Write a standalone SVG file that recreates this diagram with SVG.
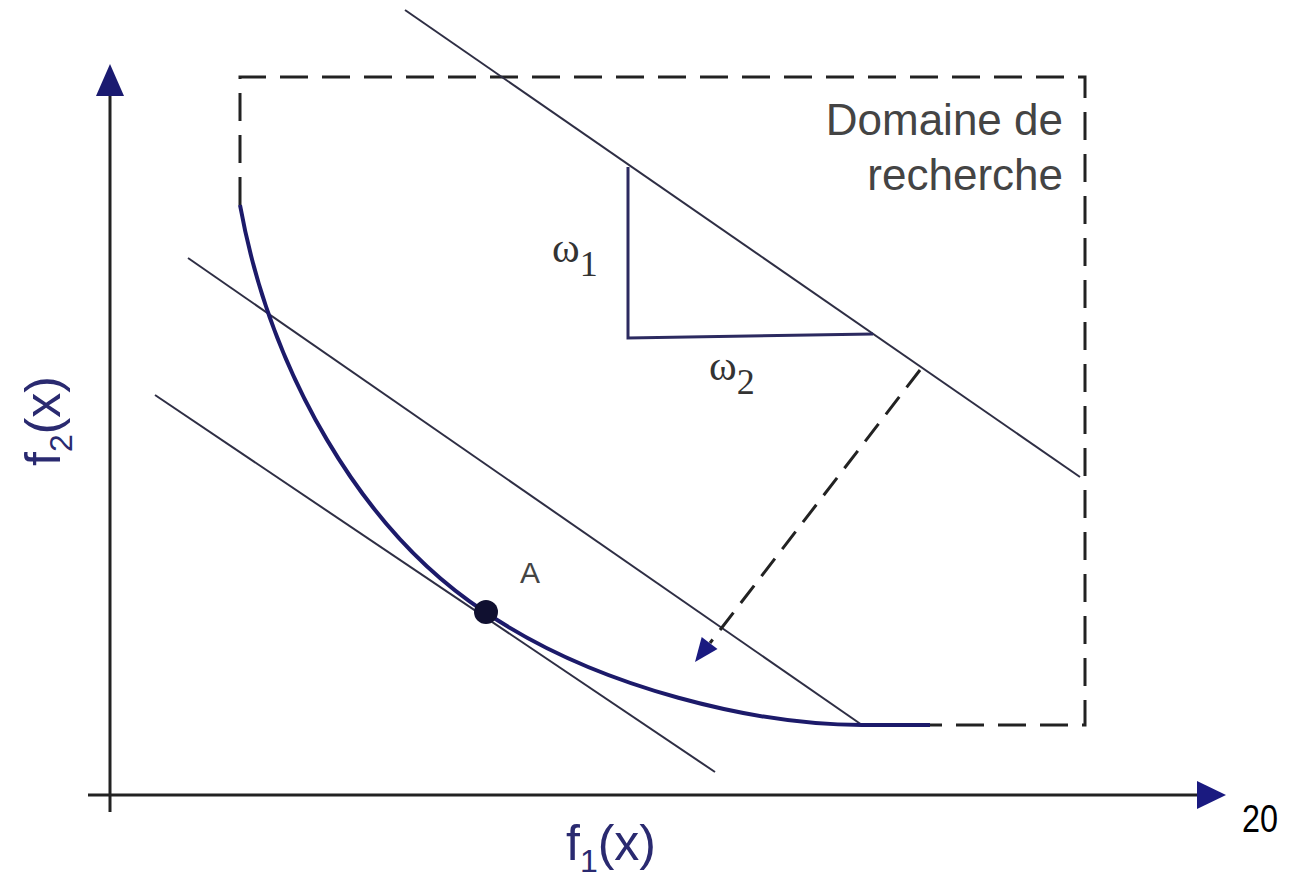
<svg xmlns="http://www.w3.org/2000/svg" width="1292" height="877" viewBox="0 0 1292 877">
<style>
.ax{stroke:#222;stroke-width:3;fill:none}
.ln{stroke:#2e2e44;stroke-width:2;fill:none}
.dash{stroke:#222;stroke-width:3;fill:none;stroke-dasharray:28 14}
.curve{stroke:#1c1a6a;stroke-width:4;fill:none}
.lbl{font-family:"Liberation Sans",Arial,sans-serif;fill:#444}
.axl{font-family:"Liberation Sans",Arial,sans-serif;fill:#2a2a70}
.om{font-family:"Liberation Serif","Times New Roman",serif;fill:#333}
</style>
<rect width="1292" height="877" fill="#ffffff"/>
<g id="axes">
<line class="ax" x1="110" y1="812" x2="110" y2="90"/>
<polygon points="110,64 96,96 124,96" fill="#1a1a70"/>
<line class="ax" x1="88" y1="795" x2="1200" y2="795"/>
<polygon points="1226,795 1197,781 1197,809" fill="#1a1a80"/>
</g>
<g id="domain">
<path class="dash" d="M240,205 L240,77 L1085,77 L1085,725 L930,725"/>
</g>
<g id="connectors">
<line class="ln" x1="405" y1="10" x2="1080" y2="477"/>
<line class="ln" x1="188" y1="258" x2="862" y2="725"/>
<line class="ln" x1="155" y1="395" x2="715" y2="772"/>
<path d="M628,167 L628,338 L873,334" stroke="#2c2a60" stroke-width="3" fill="none"/>
<line x1="920" y1="370" x2="710" y2="643" stroke="#222" stroke-width="3" stroke-dasharray="22 12"/>
<polygon points="695,662 717.5,649 701.7,637" fill="#1a1a80"/>
</g>
<g id="front">
<path class="curve" d="M240,205 C270,370 360,530 485,612 C600,690 760,725 862,725 L930,725"/>
</g>
<g id="pointA">
<circle cx="486" cy="612" r="12" fill="#101030"/>
<text class="lbl" x="520" y="583" font-size="30">A</text>
</g>
<g id="label-domain">
<text class="lbl" x="1063" y="135" font-size="44" text-anchor="end">Domaine de</text>
<text class="lbl" x="1063" y="190" font-size="44" text-anchor="end">recherche</text>
</g>
<g id="w1">
<text class="om" x="552" y="262" font-size="42">ω<tspan font-size="36" dy="14">1</tspan></text>
</g>
<g id="w2">
<text class="om" x="709" y="380" font-size="42">ω<tspan font-size="36" dy="14">2</tspan></text>
</g>
<g id="f2label">
<text class="axl" font-size="50" transform="translate(60,466) rotate(-90)">f<tspan font-size="32" dy="12">2</tspan><tspan dy="-12">(x)</tspan></text>
</g>
<g id="f1label">
<text class="axl" x="566" y="860" font-size="50">f<tspan font-size="32" dy="12">1</tspan><tspan dy="-12">(x)</tspan></text>
</g>
<g id="pagenum">
<text x="1242" y="832" font-size="38" font-family="'Liberation Sans',Arial,sans-serif" fill="#000" textLength="36" lengthAdjust="spacingAndGlyphs">20</text>
</g>
</svg>
